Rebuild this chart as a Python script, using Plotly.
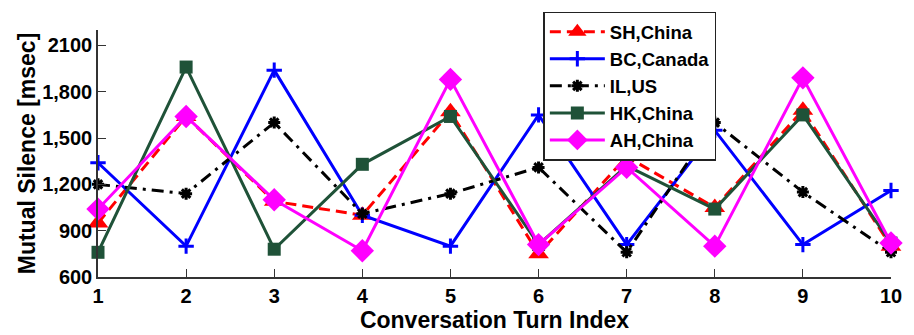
import plotly.graph_objects as go

turns = [1, 2, 3, 4, 5, 6, 7, 8, 9, 10]
sh_china = [950, 1640, 1090, 1000, 1670, 750, 1380, 1050, 1680, 800]
bc_canada = [1340, 800, 1940, 1000, 800, 1650, 810, 1550, 810, 1160]
il_us = [1200, 1140, 1600, 1010, 1140, 1310, 760, 1600, 1150, 760]
hk_china = [760, 1960, 780, 1330, 1640, 810, 1320, 1040, 1650, 820]
ah_china = [1040, 1640, 1100, 770, 1880, 810, 1310, 800, 1890, 820]
y_ticks = [600, 900, 1200, 1500, 1800, 2100]
y_tick_labels = ["600", "900", "1,200", "1,500", "1,800", "2100"]

series = [
    ("SH,China", sh_china, "#FF0000", "11px,6px", "triangle-up", 18),
    ("BC,Canada", bc_canada, "#0000FF", "solid", "cross-thin", 11),
    ("IL,US", il_us, "#000000", "12px,6px,3px,6px", "asterisk", 10),
    ("HK,China", hk_china, "#1F5238", "solid", "square", 13),
    ("AH,China", ah_china, "#FF00FF", "solid", "diamond", 18),
]

fig = go.Figure()
for name, vals, color, dash, sym, size in series:
    fig.add_trace(go.Scatter(
        x=turns, y=vals, name=f"<b>{name}</b>", mode="lines+markers",
        line=dict(color=color, width=3, dash=dash),
        marker=dict(symbol=sym, size=size, color=color,
                    line=dict(color=color, width=3 if sym in ("cross-thin", "asterisk") else 0)),
        cliponaxis=False,
    ))

font = "Liberation Sans, Arial, sans-serif"
fig.update_layout(
    width=914, height=335,
    margin=dict(l=98, r=13, t=22, b=57),
    paper_bgcolor="white", plot_bgcolor="white",
    font=dict(family=font, size=20, color="black"),
    xaxis=dict(
        range=[1, 10], tickvals=turns, ticktext=[f"<b>{t}</b>" for t in turns],
        showgrid=False, zeroline=False, showline=True, linecolor="#333333", linewidth=1.5,
        ticks="inside", ticklen=8, tickcolor="#333333",
        title=dict(text="<b>Conversation Turn Index</b>", font=dict(size=23), standoff=0),
        tickfont=dict(size=20),
    ),
    yaxis=dict(
        range=[600, 2200], tickvals=y_ticks, ticktext=[f"<b>{t}</b>" for t in y_tick_labels],
        showgrid=False, zeroline=False, showline=True, linecolor="#333333", linewidth=1.5,
        ticks="inside", ticklen=8, tickcolor="#333333",
        title=dict(text="<b>Mutual Silence [msec]</b>", font=dict(size=23), standoff=0),
        tickfont=dict(size=20),
    ),
    legend=dict(
        x=0.5616, y=1.074, xanchor="left", yanchor="top",
        bgcolor="white", bordercolor="#222222", borderwidth=1.5,
        font=dict(size=18.5), itemwidth=55, tracegroupgap=0,
    ),
    showlegend=True,
)
fig.write_html("out.html")
